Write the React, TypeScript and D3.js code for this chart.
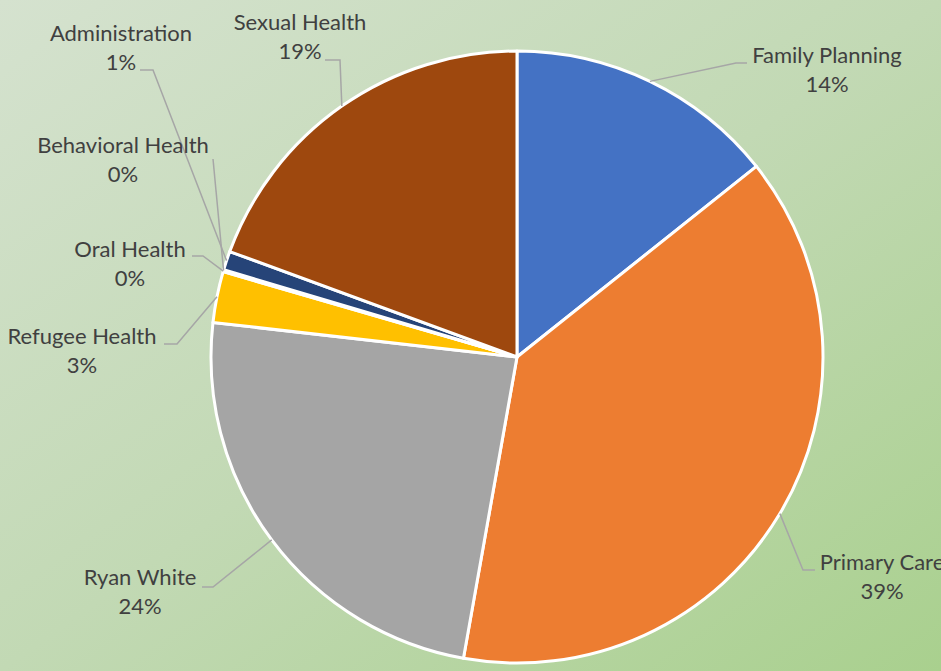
import React, { useEffect, useRef } from 'react';
import * as d3 from 'd3';

const categories = [
  'Family Planning',
  'Primary Care',
  'Ryan White',
  'Refugee Health',
  'Oral Health',
  'Behavioral Health',
  'Administration',
  'Sexual Health',
];
const shares = [14.3, 38.5, 24.0, 2.7, 0.05, 0.05, 1.0, 19.4];
const colors = ['#4472C4', '#ED7D31', '#A5A5A5', '#FFC000', '#5B9BD5', '#70AD47', '#264478', '#9E480E'];

// label placement: text centre x, first baseline y, elbow of leader line, end x of leader
const labelLayout = [
  { x: 827, y: 63, ex: 736, ey: 63, endX: 747 },
  { x: 882, y: 570, ex: 803, ey: 570, endX: 815 },
  { x: 140, y: 585, ex: 213, ey: 587, endX: 202 },
  { x: 82, y: 344, ex: 177, ey: 344, endX: 164 },
  { x: 130, y: 257, ex: 203, ey: 256, endX: 192 },
  { x: 123, y: 153, ex: 213, ey: 159, endX: 213 },
  { x: 121, y: 41, ex: 153, ey: 70, endX: 140 },
  { x: 300, y: 30, ex: 340, ey: 60, endX: 325 },
];

const W = 941;
const H = 671;

const App = () => {
  const svgRef = useRef<SVGSVGElement>(null);

  useEffect(() => {
    const svg = d3.select(svgRef.current);
    svg.selectAll('*').remove();

    const cx = 517;
    const cy = 357;
    const radius = 306;

    const defs = svg.append('defs');
    const grad = defs
      .append('linearGradient')
      .attr('id', 'bg')
      .attr('x1', '0%')
      .attr('y1', '0%')
      .attr('x2', '100%')
      .attr('y2', '100%');
    grad.append('stop').attr('offset', '0%').attr('stop-color', '#d5e2cf');
    grad.append('stop').attr('offset', '50%').attr('stop-color', '#c2d9b4');
    grad.append('stop').attr('offset', '100%').attr('stop-color', '#a9d08e');

    svg.append('rect').attr('width', W).attr('height', H).attr('fill', 'url(#bg)');

    const data = categories.map((c, i) => ({ name: c, value: shares[i], color: colors[i], i }));
    const pie = d3
      .pie<any>()
      .value((d) => d.value)
      .sort(null);
    const arcs = pie(data);
    const arc = d3.arc<any>().innerRadius(0).outerRadius(radius);

    const g = svg.append('g').attr('transform', `translate(${cx},${cy})`);

    g.selectAll('path')
      .data(arcs)
      .enter()
      .append('path')
      .attr('d', arc)
      .attr('fill', (d) => d.data.color)
      .attr('stroke', '#ffffff')
      .attr('stroke-width', 3)
      .attr('stroke-linejoin', 'round');

    // leader lines
    arcs.forEach((a, i) => {
      const mid = (a.startAngle + a.endAngle) / 2;
      const sx = cx + radius * Math.sin(mid);
      const sy = cy - radius * Math.cos(mid);
      const L = labelLayout[i];
      svg
        .append('polyline')
        .attr('points', `${sx},${sy} ${L.ex},${L.ey} ${L.endX},${L.ey}`)
        .attr('fill', 'none')
        .attr('stroke', '#a6a6a6')
        .attr('stroke-width', 1.5);
    });

    const total = d3.sum(shares);
    labelLayout.forEach((L, i) => {
      const t = svg
        .append('text')
        .attr('text-anchor', 'middle')
        .attr('font-family', 'Lato, "Open Sans", sans-serif')
        .attr('font-size', 22)
        .attr('fill', '#404040');
      t.append('tspan').attr('x', L.x).attr('y', L.y).text(categories[i]);
      t.append('tspan')
        .attr('x', L.x)
        .attr('y', L.y + 29)
        .text(`${Math.round((shares[i] / total) * 100)}%`);
    });
  }, []);

  return (
    <div style={{ position: 'absolute', left: 0, top: 0 }}>
      <svg ref={svgRef} width={W} height={H} style={{ display: 'block' }} />
    </div>
  );
};

export default App;
